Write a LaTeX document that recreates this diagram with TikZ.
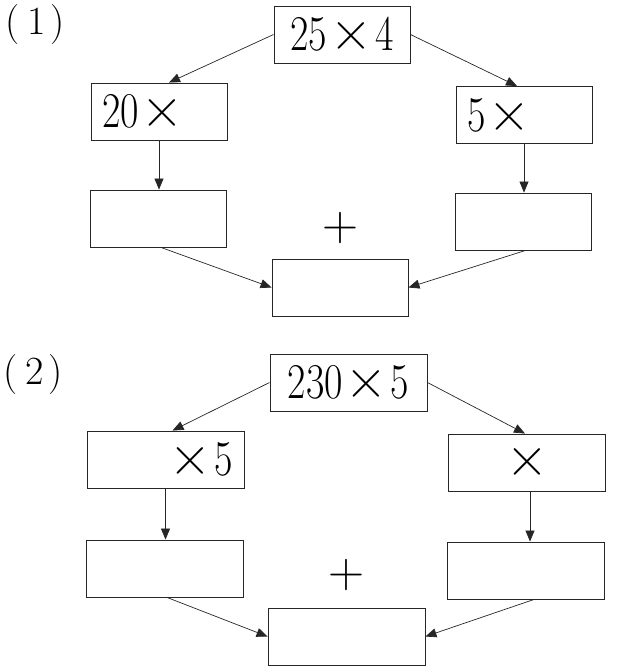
\documentclass[tikz,border=0pt]{standalone}
\usepackage{graphicx}
\usetikzlibrary{arrows.meta, calc}

\newcommand{\bnum}[1]{\scalebox{0.8}[1]{#1}}
\newcommand{\bx}{\scalebox{1.45}[1.17]{×}}
\newcommand{\tms}{\hspace{4pt}\bx\hspace{4pt}}

\begin{document}
\begin{tikzpicture}[
    x=1pt, y=-1pt,
    numbox/.style={rectangle, draw=black!85, line width=0.9pt,
                   minimum height=57pt, inner xsep=11pt, inner ysep=0pt,
                   font=\fontsize{50}{50}\selectfont},
    boxA/.style={numbox, text width=114pt},
    boxB/.style={numbox, text width=135pt},
    lab/.style={font=\fontsize{40}{40}\selectfont, inner sep=0pt},
    opsign/.style={font=\fontsize{50}{50}\selectfont, inner sep=0pt},
    arrow/.style={-{Triangle[length=11pt, width=9pt]}, line width=0.7pt, black!85}
]
\useasboundingbox (0,0) rectangle (616,668);

% Part (1)
\node[lab] (lab1) at (35,25) {(\hspace{8pt}1\hspace{5pt})};
\node[boxA, align=center] (top1) at (342,34.5) {\bnum{25\tms4}};
\node[boxA, align=left] (left1) at (159,111.5) {\bnum{20\tms}};
\node[boxA, align=left] (right1) at (524,115) {\bnum{5\tms}};
\node[boxA] (lres1) at (158,218.5) {};
\node[boxA] (rres1) at (523.5,221.5) {};
\node[boxA] (sum1) at (340,287.5) {};
\node[opsign] (plus1) at (340,228) {+};

\draw[arrow] (top1.west) -- ([xshift=10pt]left1.north);
\draw[arrow] (top1.east) -- ([xshift=-7pt]right1.north);
\draw[arrow] (left1.south) -- (left1.south |- lres1.north);
\draw[arrow] (right1.south) -- (right1.south |- rres1.north);
\draw[arrow] ([xshift=3pt]lres1.south) -- (sum1.west);
\draw[arrow] ([xshift=2pt]rres1.south) -- (sum1.east);

% Part (2)
\node[lab] (lab2) at (33,375) {(\hspace{8pt}2\hspace{5pt})};
\node[boxB, align=center] (top2) at (348.5,382.5) {\bnum{230\tms5}};
\node[boxB, align=right] (left2) at (165.5,459.5) {\bnum{\tms5}};
\node[boxB, align=center] (right2) at (527,462.5) {\bnum{\bx}};
\node[boxB] (lres2) at (165,568.5) {};
\node[boxB] (rres2) at (526,570.5) {};
\node[boxB] (sum2) at (346.5,636.5) {};
\node[opsign] (plus2) at (346.5,575) {+};

\draw[arrow] (top2.west) -- ([xshift=7pt]left2.north);
\draw[arrow] (top2.east) -- ([xshift=-2pt]right2.north);
\draw[arrow] (left2.south) -- (left2.south |- lres2.north);
\draw[arrow] ([xshift=3pt]right2.south) -- ([xshift=3pt]right2.south |- rres2.north);
\draw[arrow] ([xshift=2pt]lres2.south) -- (sum2.west);
\draw[arrow] ([xshift=8pt]rres2.south) -- (sum2.east);

\end{tikzpicture}
\end{document}
